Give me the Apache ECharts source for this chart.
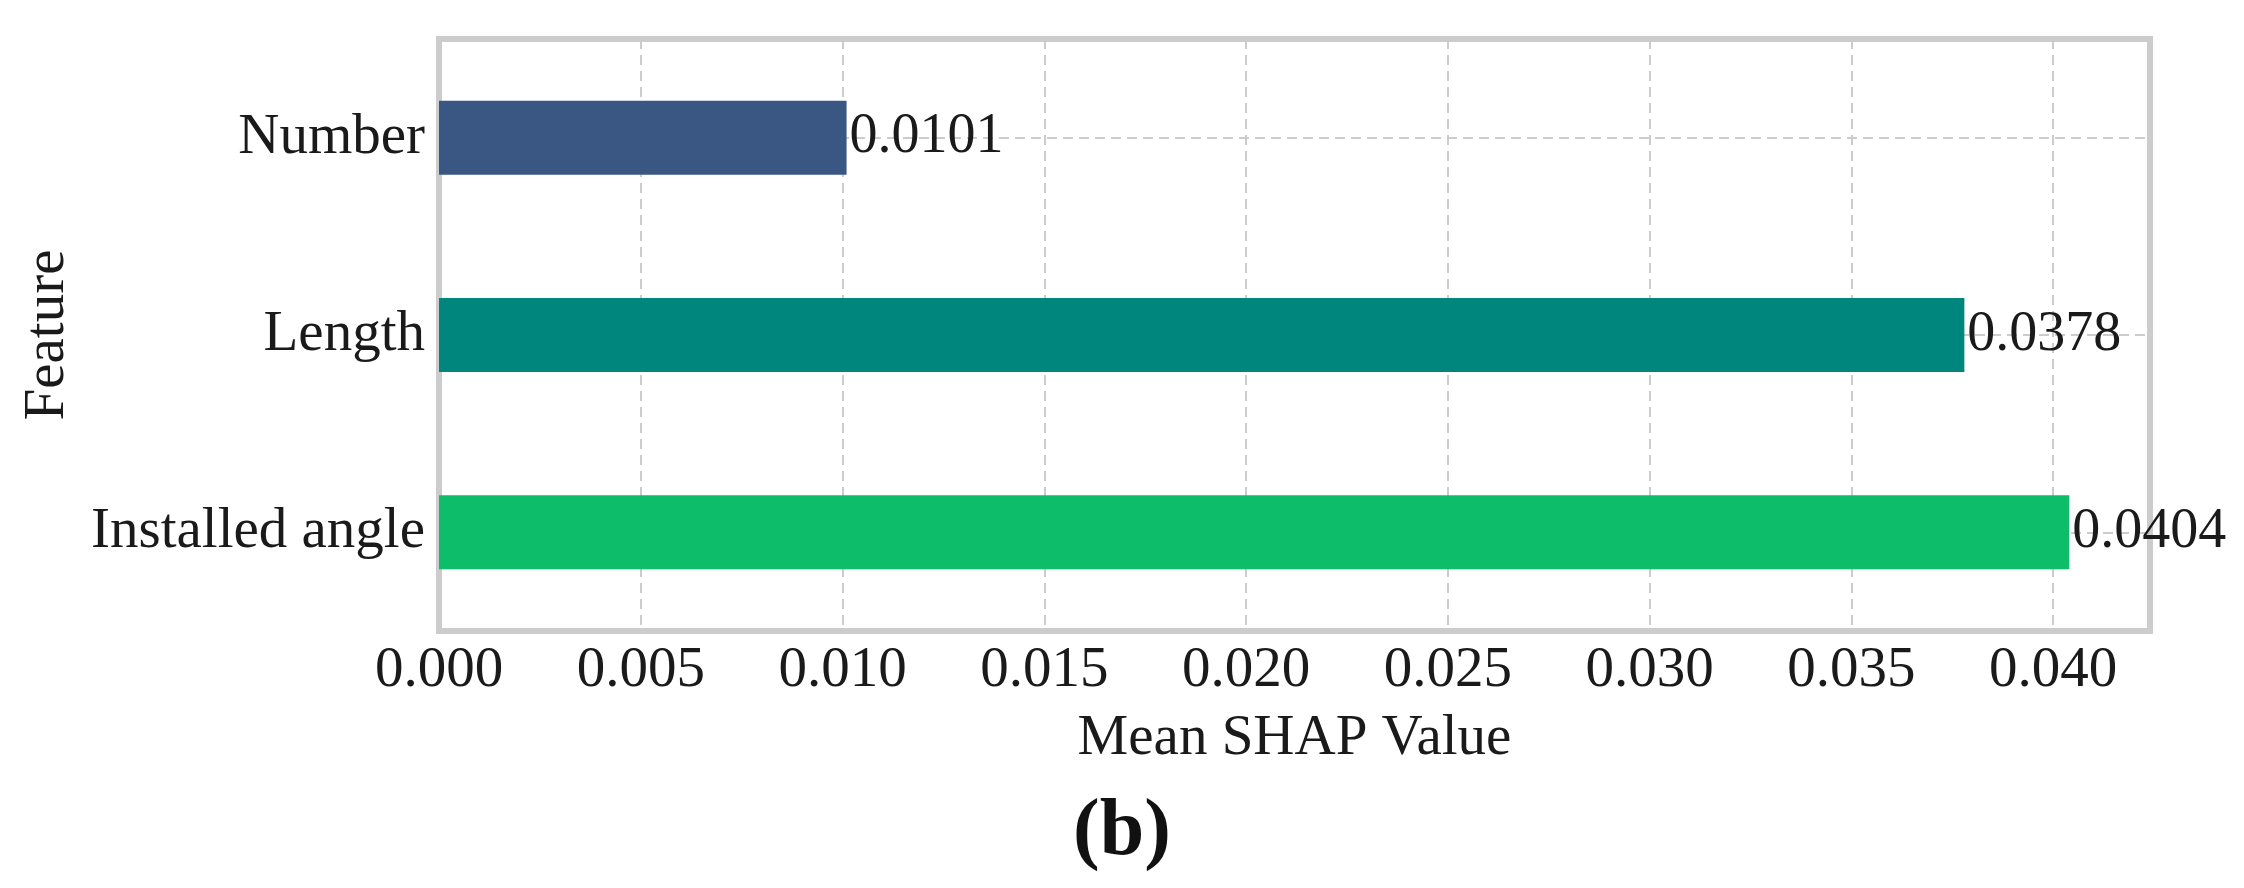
<!DOCTYPE html>
<html>
<head>
<meta charset="utf-8">
<script src="https://cdn.jsdelivr.net/npm/echarts@6/dist/echarts.min.js"></script>
<style>
html,body{margin:0;padding:0;background:#fff;}
#chart{width:2244px;height:888px;}
</style>
</head>
<body>
<div id="chart"></div>
<script>
const categories = ['Number', 'Length', 'Installed angle'];
const values = [0.0101, 0.0378, 0.0404];
const barColors = ['#3A5683', '#00867D', '#0EBD69'];
const xTicks = [0.000, 0.005, 0.010, 0.015, 0.020, 0.025, 0.030, 0.035, 0.040];

const FONT = 'Liberation Serif';
const chart = echarts.init(document.getElementById('chart'), null, {renderer: 'canvas'});
chart.setOption({
  backgroundColor: '#ffffff',
  animation: false,
  title: {
    text: '(b)',
    left: 'center',
    top: 788,
    textStyle: {fontFamily: FONT, fontWeight: 'bold', fontSize: 80, color: '#111'}
  },
  grid: {
    left: 439, right: 94, top: 39, bottom: 257,
    show: true, borderColor: '#cccccc', borderWidth: 6, backgroundColor: 'transparent'
  },
  xAxis: {
    type: 'value',
    min: 0,
    max: 0.0424,
    interval: 0.005,
    name: 'Mean SHAP Value',
    nameLocation: 'middle',
    nameGap: 80,
    nameTextStyle: {fontFamily: FONT, fontSize: 57, color: '#1a1a1a'},
    axisLine: {show: false},
    axisTick: {show: false},
    axisLabel: {
      fontFamily: FONT, fontSize: 57, color: '#1a1a1a', margin: 12,
      showMaxLabel: false,
      formatter: function (v) {
        const hit = xTicks.find(t => Math.abs(t - v) < 1e-9);
        return hit === undefined ? '' : hit.toFixed(3);
      }
    },
    splitLine: {show: true, lineStyle: {color: '#cccccc', width: 2, type: [10, 6]}}
  },
  yAxis: {
    type: 'category',
    data: categories,
    inverse: true,
    name: 'Feature',
    nameLocation: 'middle',
    nameGap: 362,
    nameTextStyle: {fontFamily: FONT, fontSize: 57, color: '#1a1a1a'},
    axisLine: {show: false},
    axisTick: {show: false, alignWithLabel: true},
    axisLabel: {fontFamily: FONT, fontSize: 57, color: '#1a1a1a', margin: 14},
    splitLine: {show: true, alignWithLabel: true, lineStyle: {color: '#cccccc', width: 2, type: [10, 6]}}
  },
  series: [{
    type: 'bar',
    data: values.map((v, i) => ({value: v, itemStyle: {color: barColors[i]}})),
    barWidth: '37.5%',
    label: {
      show: true,
      position: 'right',
      distance: 3,
      fontFamily: FONT,
      fontSize: 56,
      color: '#1a1a1a',
      formatter: p => p.value.toFixed(4)
    }
  }]
});
</script>
</body>
</html>
